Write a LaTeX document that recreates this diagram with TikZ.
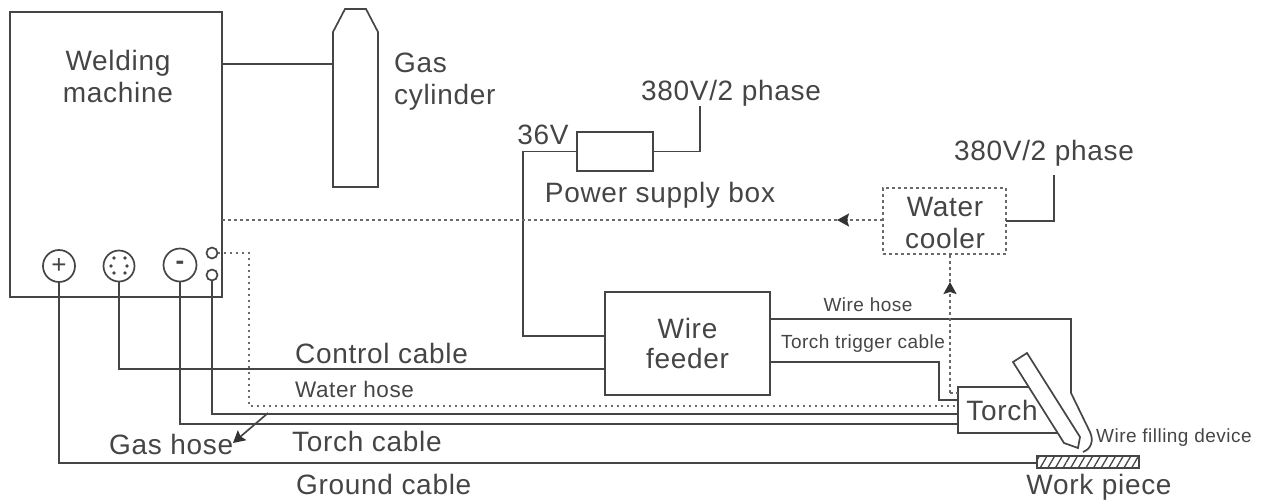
\documentclass[tikz,border=0pt]{standalone}
\usepackage{fontspec}
\setmainfont[LetterSpace=2.5]{Liberation Sans}
\usetikzlibrary{arrows.meta,patterns.meta}
\definecolor{inkgray}{gray}{0.27}
\tikzset{
  wire/.style={draw=inkgray, line width=1.7pt},
  dotwire/.style={draw=inkgray!80, line width=1.7pt, dash pattern=on 2.6pt off 3.4pt},
  boxnode/.style={draw=inkgray, line width=1.7pt, inner sep=0pt, outer sep=0pt, align=center},
  hidnode/.style={inner sep=0pt, outer sep=0pt},
  biglabel/.style={text=inkgray, inner sep=0pt, align=center, font=\fontsize{28}{32}\selectfont},
  midlabel/.style={text=inkgray, inner sep=0pt, font=\fontsize{22.5}{26}\selectfont},
  smalllabel/.style={text=inkgray, inner sep=0pt, font=\fontsize{19}{22}\selectfont}
}
\begin{document}
\begin{tikzpicture}[x=1pt, y=-1pt, >={Stealth[length=12pt,width=13pt,inset=2pt,color=black!80]}]
        \useasboundingbox (0,0) rectangle (1263,499);
        % boxes
        \node[boxnode, minimum width=212pt, minimum height=285pt] (weldMachine) at (116,154.5) {};
        \node[biglabel] (machineText) at (118,76) {Welding\\machine};
        \node[hidnode, minimum width=45pt, minimum height=178pt] (gasCylinder) at (355.5,98) {};
        \draw[wire] (333,187) -- (333,32) -- (345,9) -- (366,9) -- (378,32) -- (378,187) -- cycle;
        \node[boxnode, minimum width=76pt, minimum height=39pt] (powerBox) at (615,151.5) {};
        \node[boxnode, minimum width=165pt, minimum height=103pt, font=\fontsize{28}{30}\selectfont, text=inkgray] (wireFeeder) at (687.5,343.5) {Wire\\feeder};
        \node[boxnode, dotwire, minimum width=123pt, minimum height=66pt] (waterCooler) at (944.5,221) {};
        \node[biglabel] (coolerText) at (945,223) {Water\\cooler};
        \node[hidnode, minimum width=88pt, minimum height=46pt, font=\fontsize{28}{32}\selectfont, text=inkgray] (torchBox) at (1002,410) {Torch};
        \draw[wire] (958,387) -- (1040,387) -- (1062,433) -- (958,433) -- cycle;
        \draw[wire, fill=white] (1013,362) -- (1027,353) -- (1080,437) -- (1078,448) -- (1064,443) -- cycle;
        \node[boxnode, minimum width=102pt, minimum height=12pt, pattern={Lines[angle=60,distance=6.6pt,line width=1.3pt,xshift=1pt]}, pattern color=inkgray] (workPiece) at (1088,462) {};

        % sockets
        \node[boxnode, circle, minimum size=32pt, font=\fontsize{26}{26}\selectfont, text=inkgray] (plusPort) at (59,266) {+};
        \node[boxnode, circle, minimum size=31pt] (ctrlPort) at (119,266) {};
        \node[boxnode, circle, minimum size=33pt, font=\bfseries\fontsize{26}{26}\selectfont, text=inkgray] (minusPort) at (180,265) {-};
        \node[boxnode, circle, minimum size=11pt] (waterPort) at (212,253) {};
        \node[boxnode, circle, minimum size=11pt] (gasPort) at (212,275) {};
        \foreach \px/\py in {-5/-8, 6/-8, -8/0, 8/0, -5/7, 6/7}
            \fill[inkgray] (119+\px,266+\py) circle (1.9pt);

        % free ends
        \coordinate (phaseEndA) at (700,106);
        \coordinate (phaseEndB) at (1054,175);
        \coordinate (arrowLeft) at (837,220);
        \coordinate (arrowUp) at (950,282);
        \coordinate (hoseBend) at (1071,393);
        \coordinate (hoseTip) at (1083,452);
        \coordinate (gasFrom) at (268,413);
        \coordinate (gasTo) at (233,443);

        % cables
        \draw[wire] (weldMachine.east |- 0,64) -- (gasCylinder.west |- 0,64);
        \draw[wire] (powerBox.west) -| (523,336) -- (wireFeeder.west |- 0,336);
        \draw[wire] (powerBox.east) -| (phaseEndA);
        \draw[wire] (waterCooler.east) -| (phaseEndB);
        \draw[wire] (ctrlPort.south) |- (wireFeeder.west |- 0,369);
        \draw[wire] (gasPort.south) |- (torchBox.west |- 0,414);
        \draw[wire] (minusPort.south) |- (torchBox.west |- 0,424);
        \draw[wire] (plusPort.south) |- (workPiece.west |- 0,463);
        \draw[wire] (wireFeeder.east |- 0,319) -| (hoseBend) -- (1090,432) .. controls (1094,441) and (1091,449) .. (hoseTip);
        \draw[wire] (wireFeeder.east |- 0,362) -| (939,400) -- (torchBox.west |- 0,400);
        \draw[wire, ->] (gasFrom) -- (gasTo);

        % water
        \draw[dotwire] (waterPort.east) -| (249,406) -- (torchBox.west |- 0,406);
        \draw[dotwire, ->] (waterCooler.west |- arrowLeft) -- (arrowLeft);
        \draw[dotwire] (arrowLeft) -- (weldMachine.east |- arrowLeft);
        \draw[dotwire, ->] (arrowUp |- 0,393) -- (arrowUp);
        \draw[dotwire] (arrowUp) -- (arrowUp |- waterCooler.south);
        \draw[dotwire] (arrowUp |- 0,393) -- (torchBox.west |- 0,393);

        % labels
        \node[biglabel, anchor=west, align=left] (cylinderText) at (394,82) {Gas\\cylinder};
        \node[biglabel] (phaseTextA) at (731,93) {380V/2 phase};
        \node[biglabel] (phaseTextB) at (1044,153) {380V/2 phase};
        \node[biglabel] (voltText) at (543,135) {36V};
        \node[biglabel] (powerText) at (660,195) {Power supply box};
        \node[biglabel, anchor=west] (controlText) at (295,353) {Control cable};
        \node[midlabel, anchor=west] (waterText) at (295,389) {Water hose};
        \node[biglabel, anchor=west] (torchText) at (292,441) {Torch cable};
        \node[biglabel, anchor=west] (groundText) at (296,484) {Ground cable};
        \node[biglabel, anchor=west] (gasText) at (109,444) {Gas hose};
        \node[smalllabel] (hoseText) at (868,305) {Wire hose};
        \node[smalllabel] (triggerText) at (863,344) {Torch trigger cable};
        \node[smalllabel, anchor=west] (fillText) at (1096,438) {Wire filling device};
        \node[biglabel] (pieceText) at (1099,487) {Work piece};
\end{tikzpicture}
\end{document}
